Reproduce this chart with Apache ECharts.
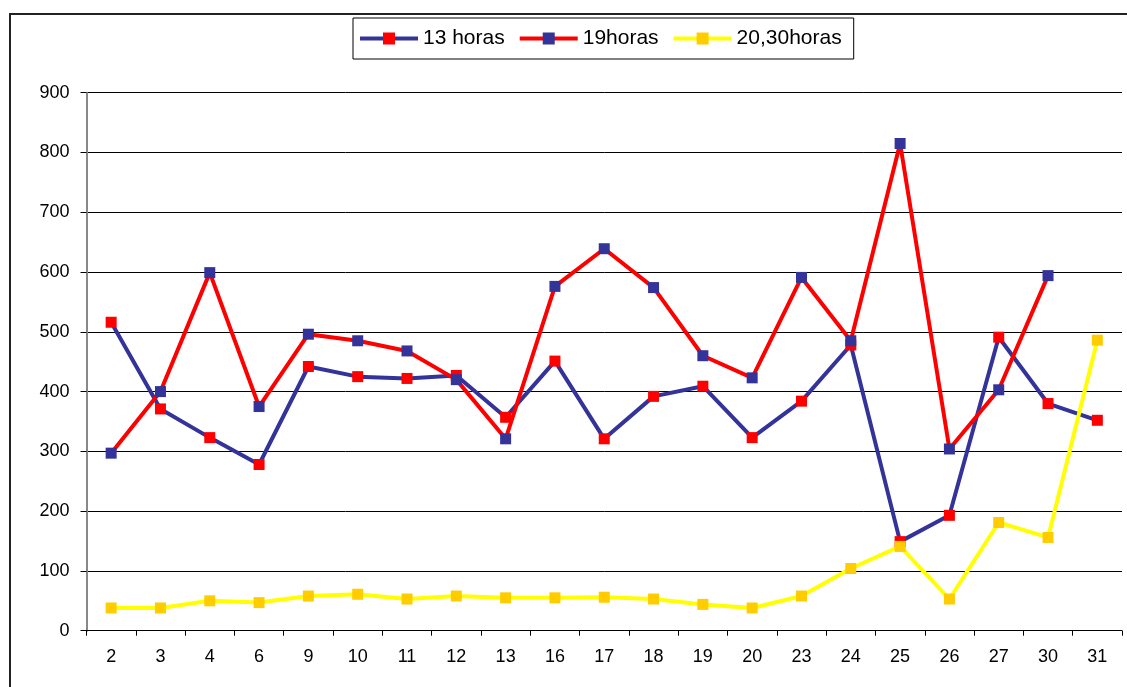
<!DOCTYPE html>
<html>
<head>
<meta charset="utf-8">
<title>Horas</title>
<script src="https://cdn.jsdelivr.net/npm/echarts@6/dist/echarts.min.js"></script>
<style>
  html, body { margin: 0; padding: 0; background: #fff; }
  #chart { width: 1127px; height: 687px; }
</style>
</head>
<body>
<div id="chart"></div>
<script>
// Days of the month on the category axis
const days = ['2', '3', '4', '6', '9', '10', '11', '12', '13', '16', '17', '18', '19', '20', '23', '24', '25', '26', '27', '30', '31'];

// Readings per time slot
const horas13 = [516, 371, 323, 278, 442, 425, 422, 427, 357, 451, 321, 392, 409, 323, 384, 478, 149, 193, 491, 380, 352];
const horas19 = [297, 400, 599, 375, 496, 485, 468, 420, 321, 576, 639, 574, 460, 423, 591, 485, 815, 304, 403, 594, null];
const horas2030 = [38, 38, 50, 47, 58, 61, 53, 58, 55, 55, 56, 53, 44, 38, 58, 104, 141, 53, 181, 156, 486];

// Value axis ticks
const yTicks = { min: 0, max: 900, interval: 100 };

const FONT = '"Liberation Sans", Arial, sans-serif';

function lineSeries(name, data, lineColor, markerColor) {
  return {
    name: name,
    type: 'line',
    data: data,
    symbol: 'rect',
    symbolSize: 11,
    showAllSymbol: true,
    connectNulls: false,
    lineStyle: { color: lineColor, width: 4 },
    itemStyle: { color: markerColor, borderWidth: 0 },
    emphasis: { disabled: true },
    animation: false
  };
}

const chart = echarts.init(document.getElementById('chart'), null, { renderer: 'canvas' });

chart.setOption({
  backgroundColor: '#fff',
  animation: false,
  textStyle: { fontFamily: FONT },
  graphic: [{
    type: 'rect',
    shape: { x: 10, y: 14, width: 1300, height: 900 },
    style: { fill: 'none', stroke: '#222', lineWidth: 2 },
    silent: true,
    z: -1
  }],
  legend: {
    left: 353,
    top: 18,
    itemWidth: 58,
    itemHeight: 15,
    itemGap: 13,
    padding: [10, 12, 10, 5],
    borderColor: '#000',
    borderWidth: 1,
    backgroundColor: '#fff',
    lineStyle: { width: 4 },
    textStyle: { fontFamily: FONT, fontSize: 21, color: '#000' },
    data: ['13 horas', '19horas', '20,30horas']
  },
  grid: {
    left: 86.5,
    right: 5,
    top: 92.7,
    bottom: 56.3,
    containLabel: false
  },
  xAxis: {
    type: 'category',
    data: days,
    boundaryGap: true,
    axisLine: { show: true, lineStyle: { color: '#000', width: 1 } },
    axisTick: { show: true, length: 5, inside: false, lineStyle: { color: '#000' } },
    axisLabel: { margin: 17, fontFamily: FONT, fontSize: 18, color: '#000' },
    splitLine: { show: false }
  },
  yAxis: {
    type: 'value',
    min: yTicks.min,
    max: yTicks.max,
    interval: yTicks.interval,
    axisLine: { show: true, lineStyle: { color: '#888', width: 2 } },
    axisTick: { show: true, length: 6, lineStyle: { color: '#000' } },
    axisLabel: { margin: 17, fontFamily: FONT, fontSize: 18, color: '#000' },
    splitLine: { show: true, lineStyle: { color: '#000', width: 1 } }
  },
  series: [
    lineSeries('13 horas', horas13, '#333399', '#FF0000'),
    lineSeries('19horas', horas19, '#FF0000', '#333399'),
    lineSeries('20,30horas', horas2030, '#FFFF00', '#FFCC00')
  ]
});
</script>
</body>
</html>
